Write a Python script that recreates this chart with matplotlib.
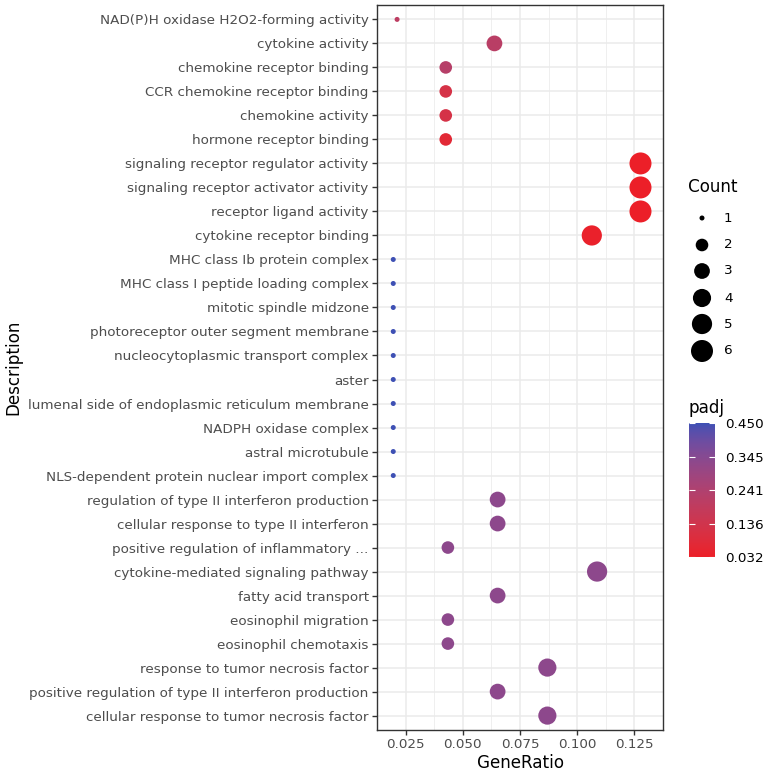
import numpy as np
import matplotlib
matplotlib.use("Agg")
import matplotlib.pyplot as plt
from matplotlib.colors import LinearSegmentedColormap, Normalize
from matplotlib.cm import ScalarMappable

# ---------------- data ----------------
descriptions = [
    "NAD(P)H oxidase H2O2-forming activity",
    "cytokine activity",
    "chemokine receptor binding",
    "CCR chemokine receptor binding",
    "chemokine activity",
    "hormone receptor binding",
    "signaling receptor regulator activity",
    "signaling receptor activator activity",
    "receptor ligand activity",
    "cytokine receptor binding",
    "MHC class Ib protein complex",
    "MHC class I peptide loading complex",
    "mitotic spindle midzone",
    "photoreceptor outer segment membrane",
    "nucleocytoplasmic transport complex",
    "aster",
    "lumenal side of endoplasmic reticulum membrane",
    "NADPH oxidase complex",
    "astral microtubule",
    "NLS-dependent protein nuclear import complex",
    "regulation of type II interferon production",
    "cellular response to type II interferon",
    "positive regulation of inflammatory ...",
    "cytokine-mediated signaling pathway",
    "fatty acid transport",
    "eosinophil migration",
    "eosinophil chemotaxis",
    "response to tumor necrosis factor",
    "positive regulation of type II interferon production",
    "cellular response to tumor necrosis factor",
]
gene_ratio = [
    1/47, 3/47, 2/47, 2/47, 2/47, 2/47, 6/47, 6/47, 6/47, 5/47,
    1/51, 1/51, 1/51, 1/51, 1/51, 1/51, 1/51, 1/51, 1/51, 1/51,
    3/46, 3/46, 2/46, 5/46, 3/46, 2/46, 2/46, 4/46, 3/46, 4/46,
]
counts = [
    1, 3, 2, 2, 2, 2, 6, 6, 6, 5,
    1, 1, 1, 1, 1, 1, 1, 1, 1, 1,
    3, 3, 2, 5, 3, 2, 2, 4, 3, 4,
]
padj = [
    0.20, 0.21, 0.22, 0.12, 0.12, 0.07, 0.032, 0.032, 0.032, 0.04,
    0.45, 0.45, 0.45, 0.45, 0.45, 0.45, 0.45, 0.45, 0.45, 0.45,
    0.33, 0.33, 0.33, 0.33, 0.33, 0.33, 0.33, 0.33, 0.33, 0.33,
]
padj_ticks = [0.032, 0.136, 0.241, 0.345, 0.450]
x_ticks = [0.025, 0.050, 0.075, 0.100, 0.125]
count_levels = [1, 2, 3, 4, 5, 6]

LOW_COL = "#EC1F28"
HIGH_COL = "#3E50B4"

# ---------------- helpers ----------------
def srgb_to_lab(rgb):
    rgb = np.asarray(rgb, float)
    lin = np.where(rgb <= 0.04045, rgb / 12.92, ((rgb + 0.055) / 1.055) ** 2.4)
    M = np.array([[0.4124, 0.3576, 0.1805],
                  [0.2126, 0.7152, 0.0722],
                  [0.0193, 0.1192, 0.9505]])
    xyz = M @ lin / np.array([0.95047, 1.0, 1.08883])
    f = np.where(xyz > 0.008856, np.cbrt(xyz), 7.787 * xyz + 16 / 116)
    return np.array([116 * f[1] - 16, 500 * (f[0] - f[1]), 200 * (f[1] - f[2])])

def lab_to_srgb(lab):
    L, a, b = lab
    fy = (L + 16) / 116
    fx = fy + a / 500
    fz = fy - b / 200
    f = np.array([fx, fy, fz])
    xyz = np.where(f ** 3 > 0.008856, f ** 3, (f - 16 / 116) / 7.787)
    xyz = xyz * np.array([0.95047, 1.0, 1.08883])
    Minv = np.array([[3.2406, -1.5372, -0.4986],
                     [-0.9689, 1.8758, 0.0415],
                     [0.0557, -0.2040, 1.0570]])
    lin = Minv @ xyz
    rgb = np.where(lin <= 0.0031308, 12.92 * lin, 1.055 * np.clip(lin, 0, None) ** (1 / 2.4) - 0.055)
    return np.clip(rgb, 0, 1)

lab_lo = srgb_to_lab(matplotlib.colors.to_rgb(LOW_COL))
lab_hi = srgb_to_lab(matplotlib.colors.to_rgb(HIGH_COL))
cols = [lab_to_srgb(lab_lo + (lab_hi - lab_lo) * t) for t in np.linspace(0, 1, 256)]
cmap = LinearSegmentedColormap.from_list("padj", cols)
norm = Normalize(vmin=min(padj_ticks), vmax=max(padj_ticks))

DPI = 100
def size_px(c):
    return 5 + 17 * np.sqrt((np.asarray(c, float) - 1) / 5)
def s_pts(c):
    return (size_px(c) * 72 / DPI) ** 2

FS_TICK = 9.7
FS_TITLE = 12.1

# ---------------- figure ----------------
W, H = 767, 773
fig = plt.figure(figsize=(W / DPI, H / DPI), dpi=DPI)
fig.patch.set_facecolor("white")

L, R, T, B = 377, 663, 5, 730
ax = fig.add_axes([L / W, 1 - B / H, (R - L) / W, (B - T) / H])
ypos = np.arange(len(descriptions))
ax.scatter(gene_ratio, ypos, s=s_pts(counts), c=padj, cmap=cmap, norm=norm,
           linewidths=0, zorder=3)

xmin, xmax = min(gene_ratio), max(gene_ratio)
pad = 0.05 * (xmax - xmin)
ax.set_xlim(xmin - pad, xmax + pad)
ax.set_ylim(len(descriptions) - 1 + 0.6, -0.6)
ax.set_xticks(x_ticks)
ax.set_xticklabels([f"{v:.3f}" for v in x_ticks])
ax.set_xticks([(a + b) / 2 for a, b in zip(x_ticks[:-1], x_ticks[1:])] +
              [x_ticks[0] - 0.0125, x_ticks[-1] + 0.0125], minor=True)
ax.set_yticks(ypos)
ax.set_yticklabels(descriptions)

ax.grid(True, which="major", color="#EBEBEB", linewidth=1.1, zorder=0)
ax.grid(True, which="minor", axis="x", color="#EBEBEB", linewidth=0.55, zorder=0)
ax.set_axisbelow(True)
ax.tick_params(axis="both", which="major", colors="#333333", labelcolor="#4D4D4D",
               labelsize=FS_TICK, length=3.5, width=1.0, pad=2.5)
ax.tick_params(axis="both", which="minor", length=0)
for sp in ax.spines.values():
    sp.set_color("#333333")
    sp.set_linewidth(1.0)

ax.set_xlabel("GeneRatio", fontsize=FS_TITLE, color="black", labelpad=2)
ax.set_ylabel("Description", fontsize=FS_TITLE, color="black", labelpad=4)

# ---------------- size legend ----------------
lax = fig.add_axes([0, 0, 1, 1])
lax.set_xlim(0, W)
lax.set_ylim(H, 0)
lax.axis("off")
lax.text(688, 187, "Count", fontsize=FS_TITLE, va="center", ha="left")
ly = [218, 245, 271, 298, 324, 351]
lax.scatter([702] * len(count_levels), ly, s=s_pts(count_levels), color="black", linewidths=0)
for c, y in zip(count_levels, ly):
    lax.text(724, y, str(c), fontsize=FS_TICK, va="center", ha="left", color="black")

# ---------------- colorbar ----------------
lax.text(688, 408, "padj", fontsize=FS_TITLE, va="center", ha="left")
cax = fig.add_axes([689 / W, 1 - 557 / H, 26 / W, 134 / H])
cb = fig.colorbar(ScalarMappable(norm=norm, cmap=cmap), cax=cax, ticks=padj_ticks)
cb.outline.set_visible(False)
cb.ax.set_yticklabels([f"{v:.3f}" for v in padj_ticks])
cb.ax.tick_params(which="major", direction="in", color="white", length=4, width=0.8,
                  left=True, right=True, labelsize=FS_TICK, pad=7)
cb.ax.tick_params(which="minor", length=0)

fig.savefig("out.png", dpi=DPI)
